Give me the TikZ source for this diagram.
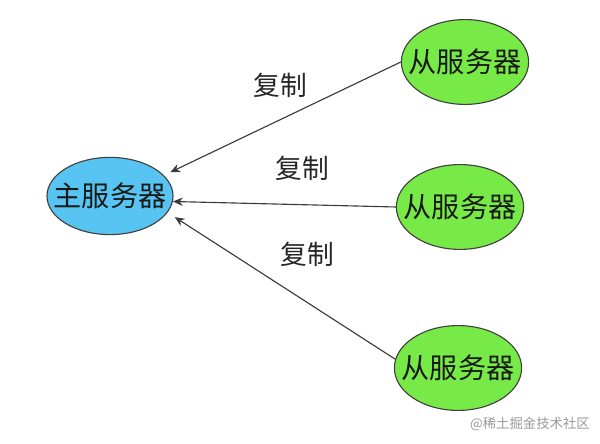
\documentclass[tikz,border=0pt]{standalone}
\usepackage{fontspec}
\newfontfamily\cjk{Noto Sans CJK SC}
\usetikzlibrary{arrows.meta, shapes.geometric}
\definecolor{masterblue}{HTML}{58C4F2}
\definecolor{slavegreen}{HTML}{78EA48}
\definecolor{linegray}{HTML}{3A3A3A}

\begin{document}
\begin{tikzpicture}[x=0.025cm, y=-0.025cm,
    srv/.style={ellipse, draw=black!75, line width=0.8pt, inner xsep=-10pt, inner ysep=0pt,
                text=black!90, font=\cjk\fontsize{20}{24}\selectfont},
    master/.style={srv, fill=masterblue, minimum width=3.15cm, minimum height=1.93cm},
    slave/.style={srv, fill=slavegreen, minimum width=3.18cm, minimum height=2.12cm},
    arrow/.style={-{Stealth[length=7pt, width=6pt]}, linegray, line width=0.8pt},
    lbl/.style={font=\cjk\fontsize{19}{22}\selectfont, text=black!85}
  ]
    \useasboundingbox (0,0) rectangle (600,444);

    \node[master] (m) at (110,196) {主服务器};

    \node[slave] (s1) at (465,62) {从服务器};
    \node[slave] (s2) at (460,207) {从服务器};
    \node[slave] (s3) at (458,368) {从服务器};

    \draw[arrow, shorten >=5pt] (s1.west) -- (m.21);
    \draw[arrow] (s2.west) -- (m.-5);
    \draw[arrow, shorten >=6pt] (s3.172) -- (m.-16);

    \node[lbl] (c1) at (280,85) {复制};
    \node[lbl] (c2) at (302,168) {复制};
    \node[lbl] (c3) at (307,254) {复制};

    \node[font=\cjk\fontsize{9.5}{11}\selectfont, text=black!40] (wm) at (530,424)
      {@稀土掘金技术社区};
  \end{tikzpicture}
\end{document}
